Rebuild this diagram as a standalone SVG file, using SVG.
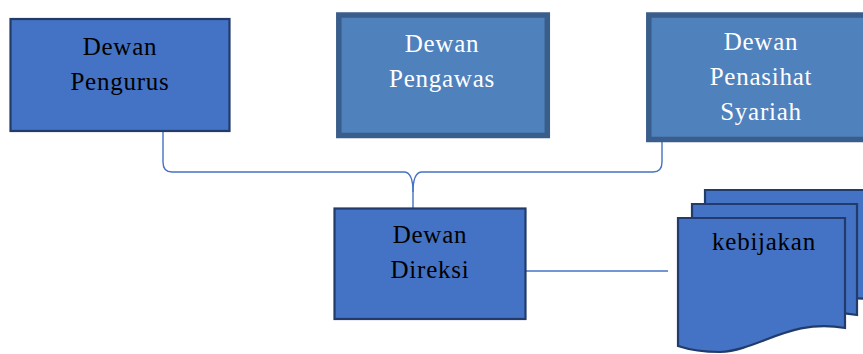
<svg xmlns="http://www.w3.org/2000/svg" width="863" height="354" viewBox="0 0 863 354">
<style>
.dark{fill:#4472C4;stroke:#213B6B;stroke-width:2.2}
.light{fill:#4F81BD;stroke:#3A5E8C;stroke-width:5.5}
.t{font-family:"Liberation Serif","Times New Roman",serif;font-size:25px;letter-spacing:0.75px;text-anchor:middle}
.tb{fill:#000}
.tw{fill:#fff}
.conn{fill:none;stroke:#4472C4;stroke-width:1.4}
</style>
<rect width="863" height="354" fill="#fff"/>
<g id="connectors">
<path class="conn" d="M163,131 V162 Q163,172 172,172 H404 Q413,172 413,192 V208"/>
<path class="conn" d="M662,142 V162 Q662,172 653,172 H422 Q413,172 413,192"/>
<path class="conn" d="M526,271 H668"/>
</g>
<g id="dewan-pengurus">
<rect class="dark" x="10.5" y="19" width="219" height="112"/>
<text class="t tb" x="120" y="55">Dewan</text>
<text class="t tb" x="120" y="90">Pengurus</text>
</g>
<g id="dewan-pengawas">
<rect class="light" x="338.8" y="15" width="208.5" height="120.5"/>
<text class="t tw" x="442" y="52">Dewan</text>
<text class="t tw" x="442" y="87">Pengawas</text>
</g>
<g id="dewan-penasihat-syariah">
<rect class="light" x="648.8" y="15" width="225" height="124.5"/>
<text class="t tw" x="761" y="50">Dewan</text>
<text class="t tw" x="761" y="85">Penasihat</text>
<text class="t tw" x="761" y="120">Syariah</text>
</g>
<g id="dewan-direksi">
<rect class="dark" x="334.5" y="208.5" width="191" height="110.5"/>
<text class="t tb" x="430" y="243">Dewan</text>
<text class="t tb" x="430" y="278">Direksi</text>
</g>
<g id="kebijakan">
<path class="dark" d="M705,190 H872 V300 C817,290 787,322 747,324 C727,324 717,322 705,318 Z"/>
<path class="dark" d="M692,204 H857 V315 C803,305 773,337 733,339 C713,339 703,337 692,333 Z"/>
<path class="dark" d="M678,218 H845 V328 C790,318 760,350 720,352 C700,352 690,350 678,346 Z"/>
<text class="t tb" x="764" y="250" letter-spacing="0.5">kebijakan</text>
</g>
</svg>
